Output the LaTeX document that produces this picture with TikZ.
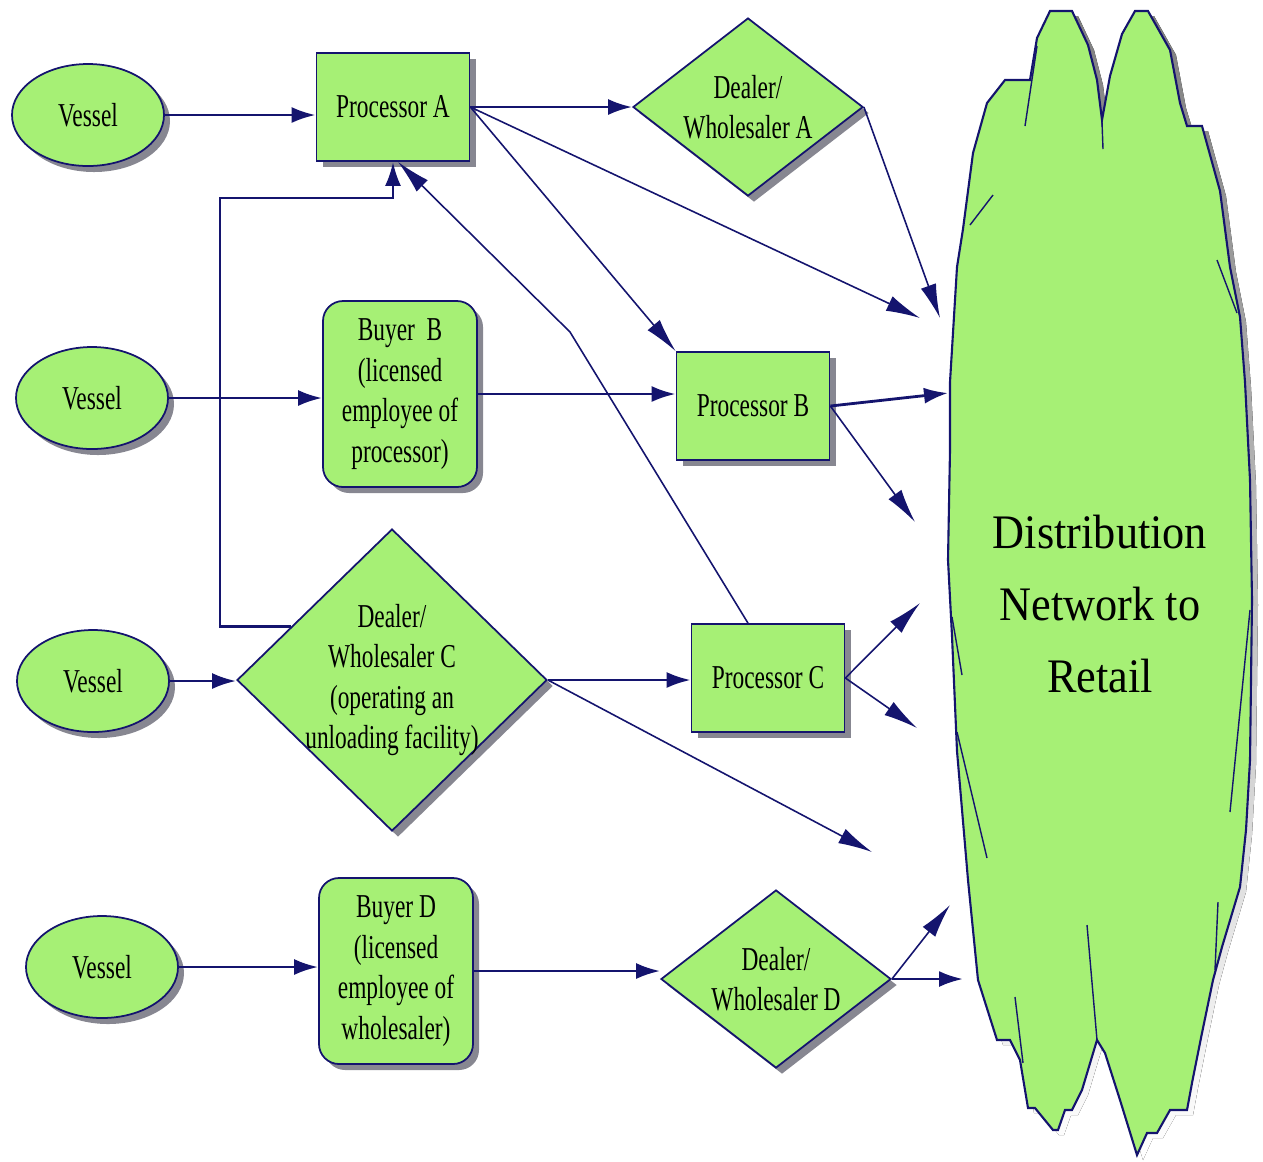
\documentclass[tikz,border=0pt]{standalone}
\usepackage{fontspec}
\usepackage{tikz}
\usetikzlibrary{arrows.meta,shapes.geometric,shadows,calc}

\newfontfamily\boxfont[FakeStretch=0.7]{Liberation Serif}
\newfontfamily\bigfont[FakeStretch=0.92]{Liberation Serif}

\definecolor{leaf}{RGB}{166,240,117}
\definecolor{navy}{RGB}{20,20,110}
\definecolor{shade}{RGB}{135,135,145}

\newcommand{\cloudoutline}{(948,560) -- (950,450) -- (950,382) -- (957,267) -- (963,229) -- (973,153)
  -- (987,103) -- (1005,80) -- (1030,80) -- (1037,38) -- (1050,11) -- (1072,11) -- (1088,45)
  -- (1097,80) -- (1102,120) -- (1110,76) -- (1122,34) -- (1135,11) -- (1148,11) -- (1170,50)
  -- (1180,103) -- (1187,126) -- (1202,126) -- (1220,191) -- (1230,267) -- (1240,317)
  -- (1245,382) -- (1250,480) -- (1252,600) -- (1250,760) -- (1246,830) -- (1240,887)
  -- (1222,947) -- (1213,980) -- (1202,1033) -- (1192,1083) -- (1187,1110) -- (1170,1110)
  -- (1157,1133) -- (1147,1133) -- (1137,1155) -- (1120,1100) -- (1105,1053) -- (1097,1040)
  -- (1082,1090) -- (1072,1110) -- (1065,1110) -- (1058,1130) -- (1053,1130) -- (1035,1108)
  -- (1028,1108) -- (1020,1060) -- (1010,1040) -- (997,1040) -- (978,980) -- (968,880)
  -- (957,751) -- (952,636) -- cycle}

\tikzset{
  chart/.style={draw=navy, line width=0.5pt, fill=leaf, align=center, inner sep=0pt,
    font=\boxfont\fontsize{9.5}{11.5}\selectfont,
    drop shadow={shadow xshift=0.6mm, shadow yshift=-0.6mm, fill=shade, opacity=1}},
  vessel/.style={chart, ellipse, minimum width=15.2mm, minimum height=10.2mm},
  proc/.style={chart, rectangle, minimum width=15.3mm, minimum height=10.8mm},
  buyer/.style={chart, rectangle, rounded corners=2mm, minimum width=15.4mm, minimum height=18.6mm},
  dealer/.style={chart, diamond, aspect=1.3, minimum width=23mm, minimum height=17.8mm},
  bigtext/.style={align=center, font=\bigfont\fontsize{13.7}{20.5}\selectfont},
  flow/.style={draw=navy, line width=0.8pt, -{Latex[length=2.4mm,width=1.6mm]}},
  feed/.style={draw=navy, line width=0.45pt, -{Latex[length=3.4mm,width=1.6mm]}},
}

\begin{document}
\begin{tikzpicture}[x=0.1mm, y=-0.1mm]
    \useasboundingbox (0,0) rectangle (1263,1161);

    \fill[shade, shift={(6,5)}] \cloudoutline;
    \filldraw[fill=leaf, draw=navy, line width=0.6pt] \cloudoutline;
    \draw[navy, line width=0.4pt] (1025,126) -- (1037,46);
    \draw[navy, line width=0.4pt] (1102,122) -- (1103,149);
    \draw[navy, line width=0.4pt] (970,225) -- (993,195);
    \draw[navy, line width=0.4pt] (1217,260) -- (1237,313);
    \draw[navy, line width=0.4pt] (952,617) -- (962,675);
    \draw[navy, line width=0.4pt] (957,732) -- (987,858);
    \draw[navy, line width=0.4pt] (1250,610) -- (1230,812);
    \draw[navy, line width=0.4pt] (1015,997) -- (1023,1063);
    \draw[navy, line width=0.4pt] (1087,925) -- (1097,1040);
    \draw[navy, line width=0.4pt] (1218,902) -- (1215,970);
    \node[bigtext] (dist) at (1100,604) {Distribution\\Network to\\Retail};

    \node[vessel] (v1) at (88,115) {Vessel};
    \node[vessel] (v2) at (92,398) {Vessel};
    \node[vessel] (v3) at (93,681) {Vessel};
    \node[vessel] (v4) at (102,967) {Vessel};

    \node[proc] (procA) at (393,107) {Processor A};
    \node[proc] (procB) at (753,406) {Processor B};
    \node[proc] (procC) at (768,678) {Processor C};

    \node[buyer] (buyerB) at (400,394) {Buyer~~B\\(licensed\\employee of\\processor)};
    \node[buyer] (buyerD) at (396,971) {Buyer D\\(licensed\\employee of\\wholesaler)};

    \node[dealer] (dealerA) at (748,107) {Dealer/\\Wholesaler A};
    \node[dealer, aspect=1.1, inner sep=-1.2mm, minimum width=31mm, minimum height=30.2mm]
        (dealerC) at (392,680) {Dealer/\\Wholesaler C\\(operating an\\unloading facility)};
    \node[dealer] (dealerD) at (776,979) {Dealer/\\Wholesaler D};

    \coordinate (eA1) at (920,318);
    \coordinate (eA2) at (940,318);
    \coordinate (eB1) at (948,393);
    \coordinate (eB2) at (915,522);
    \coordinate (eC0) at (872,852);
    \coordinate (eC1) at (920,603);
    \coordinate (eC2) at (917,728);
    \coordinate (eD1) at (950,905);
    \coordinate (eD2) at (963,979);
    \coordinate (bend) at (220,198);
    \coordinate (kink) at (570,332);
    \coordinate (dcLoop) at ($(dealerC.west)!0.35!(dealerC.north)$);

    \draw[flow] (v1) -- (v1 -| procA.west);
    \draw[flow] (v2) -- (v2 -| buyerB.west);
    \draw[flow] (v3) -- (v3 -| dealerC.west);
    \draw[flow] (v4) -- (v4 -| buyerD.west);

    \draw[flow] (procA.east) -- (dealerA.west);
    \draw[feed] (procA.east) -- (eA1);
    \draw[feed] (procA.east) -- (procB.north west);
    \draw[feed] (dealerA.east) -- (eA2);

    \draw[flow] (buyerB.east) -- (buyerB.east -| procB.west);
    \draw[flow] (procB.east) -- (eB1);
    \draw[feed] (procB.east) -- (eB2);

    \draw[flow] (dcLoop) -| (bend) -| (procA.south);
    \draw[feed] ([xshift=-2mm]procC.north) -- (kink) -- ([xshift=0.5mm]procA.south);
    \draw[flow] (dealerC.east) -- (dealerC.east -| procC.west);
    \draw[feed] (dealerC.east) -- (eC0);
    \draw[feed] (procC.east) -- (eC1);
    \draw[feed] (procC.east) -- (eC2);

    \draw[flow] (buyerD.east) -- (buyerD.east -| dealerD.west);
    \draw[feed] (dealerD.east) -- (eD1);
    \draw[flow] (dealerD.east) -- (eD2);
\end{tikzpicture}
\end{document}
